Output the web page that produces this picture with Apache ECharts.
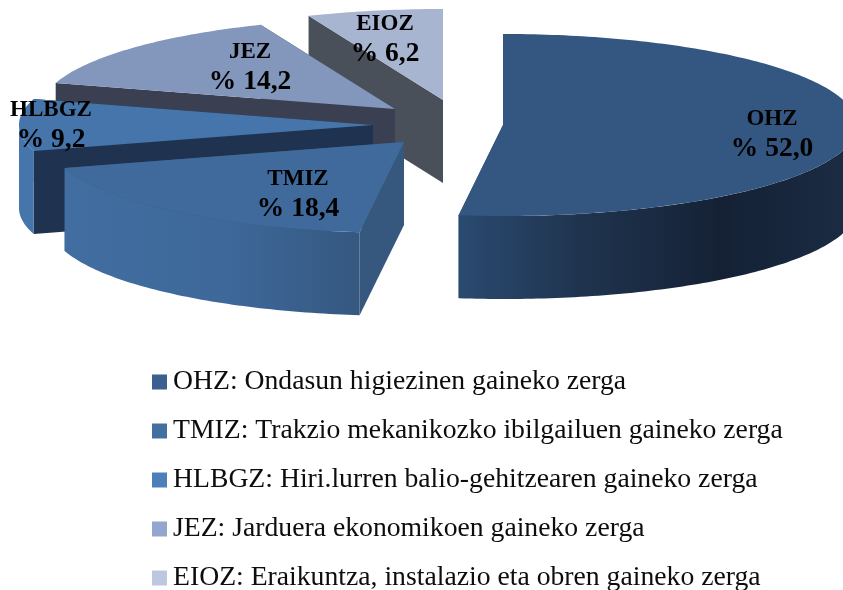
<!DOCTYPE html>
<html>
<head>
<meta charset="utf-8">
<style>html,body{margin:0;padding:0;background:#fff}#c{width:843px;height:590px}</style>
<script src="https://cdn.jsdelivr.net/npm/echarts@6/dist/echarts.min.js"></script>
</head>
<body>
<div id="c"></div>
<script>
var codes = ['OHZ', 'TMIZ', 'HLBGZ', 'JEZ', 'EIOZ'];
var descriptions = [
  'Ondasun higiezinen gaineko zerga',
  'Trakzio mekanikozko ibilgailuen gaineko zerga',
  'Hiri.lurren balio-gehitzearen gaineko zerga',
  'Jarduera ekonomikoen gaineko zerga',
  'Eraikuntza, instalazio eta obren gaineko zerga'
];
var values = [52.0, 18.4, 9.2, 14.2, 6.2];

// Drawing layout of the exploded 3D pie
var RX = 354, RY = 91, DEPTH = 83;
var apexes = [[503, 125], [404, 142], [373, 125], [395, 109], [443, 100]];
var labelCentres = [[772, 134], [298, 194], [51, 125], [250, 67], [385, 39]];
var legendColors = ['#3b5f8f', '#43709f', '#4d7fbb', '#93a7ce', '#bcc8e0'];
var topColors = ['#345782', '#3f6a9b', '#4675ab', '#8297bb', '#a8b5d0'];
var cutColors = ['#2c4a70', '#36587f', '#1f3350', '#3a4052', '#4a505a'];
var arcStops = [
  [[0, '#2a4a70'], [0.3, '#20344f'], [0.66, '#142135'], [1, '#1b2c44']],
  [[0, '#416da0'], [0.55, '#3e689a'], [1, '#355880']],
  [[0, '#4675ab'], [1, '#4675ab']],
  [[0, '#3a4052'], [1, '#3a4052']],
  [[0, '#4a505a'], [1, '#4a505a']]
];

var total = values.reduce(function (a, b) { return a + b; }, 0);
function startAngle(i) {
  var s = 0;
  for (var k = 0; k < i; k++) s += values[k];
  return s / total * 360;
}
function rimPoint(apex, deg, drop) {
  var r = deg * Math.PI / 180;
  return [apex[0] + RX * Math.sin(r), apex[1] - RY * Math.cos(r) + (drop || 0)];
}
function arc(apex, a0, a1, drop) {
  var pts = [], n = Math.max(1, Math.ceil(Math.abs(a1 - a0)));
  for (var j = 0; j <= n; j++) pts.push(rimPoint(apex, a0 + (a1 - a0) * j / n, drop));
  return pts;
}
function poly(points, fill) {
  return { type: 'polygon', silent: true, shape: { points: points }, style: { fill: fill } };
}
function cutFace(apex, deg, fill) {
  var p = rimPoint(apex, deg), q = rimPoint(apex, deg, DEPTH);
  return poly([apex, p, q, [apex[0], apex[1] + DEPTH]], fill);
}

function makeRender(i) {
  return function (params, api) {
    var v = api.value(0);
    var a0 = startAngle(i), a1 = a0 + v / total * 360;
    var apex = apexes[i], kids = [];
    kids.push(cutFace(apex, a1, cutColors[i]));
    kids.push(cutFace(apex, a0, cutColors[i]));
    var w0 = Math.max(a0, 90), w1 = Math.min(a1, 270);
    if (w1 > w0) {
      var upper = arc(apex, w0, w1, 0), lower = arc(apex, w1, w0, DEPTH);
      kids.push(poly(upper.concat(lower),
        new echarts.graphic.LinearGradient(0, 0, 1, 0, arcStops[i].map(function (s) {
          return { offset: s[0], color: s[1] };
        }))));
    }
    kids.push(poly([apex].concat(arc(apex, a0, a1, 0)), topColors[i]));
    kids.push({
      type: 'text', silent: true,
      style: {
        x: labelCentres[i][0], y: labelCentres[i][1],
        text: '{a|' + codes[i] + '}\n{b|% ' + v.toFixed(1).replace('.', ',') + '}',
        align: 'center', verticalAlign: 'middle',
        fontFamily: '"Liberation Serif"', fontWeight: 'bold', fill: '#000',
        rich: {
          a: { fontFamily: '"Liberation Serif"', fontWeight: 'bold', fontSize: 23, lineHeight: 30, fill: '#000' },
          b: { fontFamily: '"Liberation Serif"', fontWeight: 'bold', fontSize: 27.5, lineHeight: 30, fill: '#000' }
        }
      }
    });
    return { type: 'group', children: kids };
  };
}

var series = codes.map(function (c, i) {
  return {
    type: 'custom',
    name: c + ': ' + descriptions[i],
    coordinateSystem: 'none',
    z: 10 - i,
    silent: true,
    animation: false,
    itemStyle: { color: legendColors[i] },
    renderItem: makeRender(i),
    data: [[values[i]]]
  };
});

var chart = echarts.init(document.getElementById('c'), null, { renderer: 'canvas' });
chart.setOption({
  backgroundColor: '#fff',
  animation: false,
  legend: {
    orient: 'vertical',
    left: 152,
    top: 368,
    height: 300,
    padding: 0,
    itemWidth: 15,
    itemHeight: 15,
    itemGap: 21,
    itemStyle: { borderWidth: 0 },
    icon: 'rect',
    selectedMode: false,
    data: series.map(function (s) { return s.name; }),
    textStyle: { fontFamily: '"Liberation Serif"', fontSize: 27.7, color: '#0d0d0d', padding: [0, 0, 0, 1] }
  },
  series: series
});
</script>
</body>
</html>
